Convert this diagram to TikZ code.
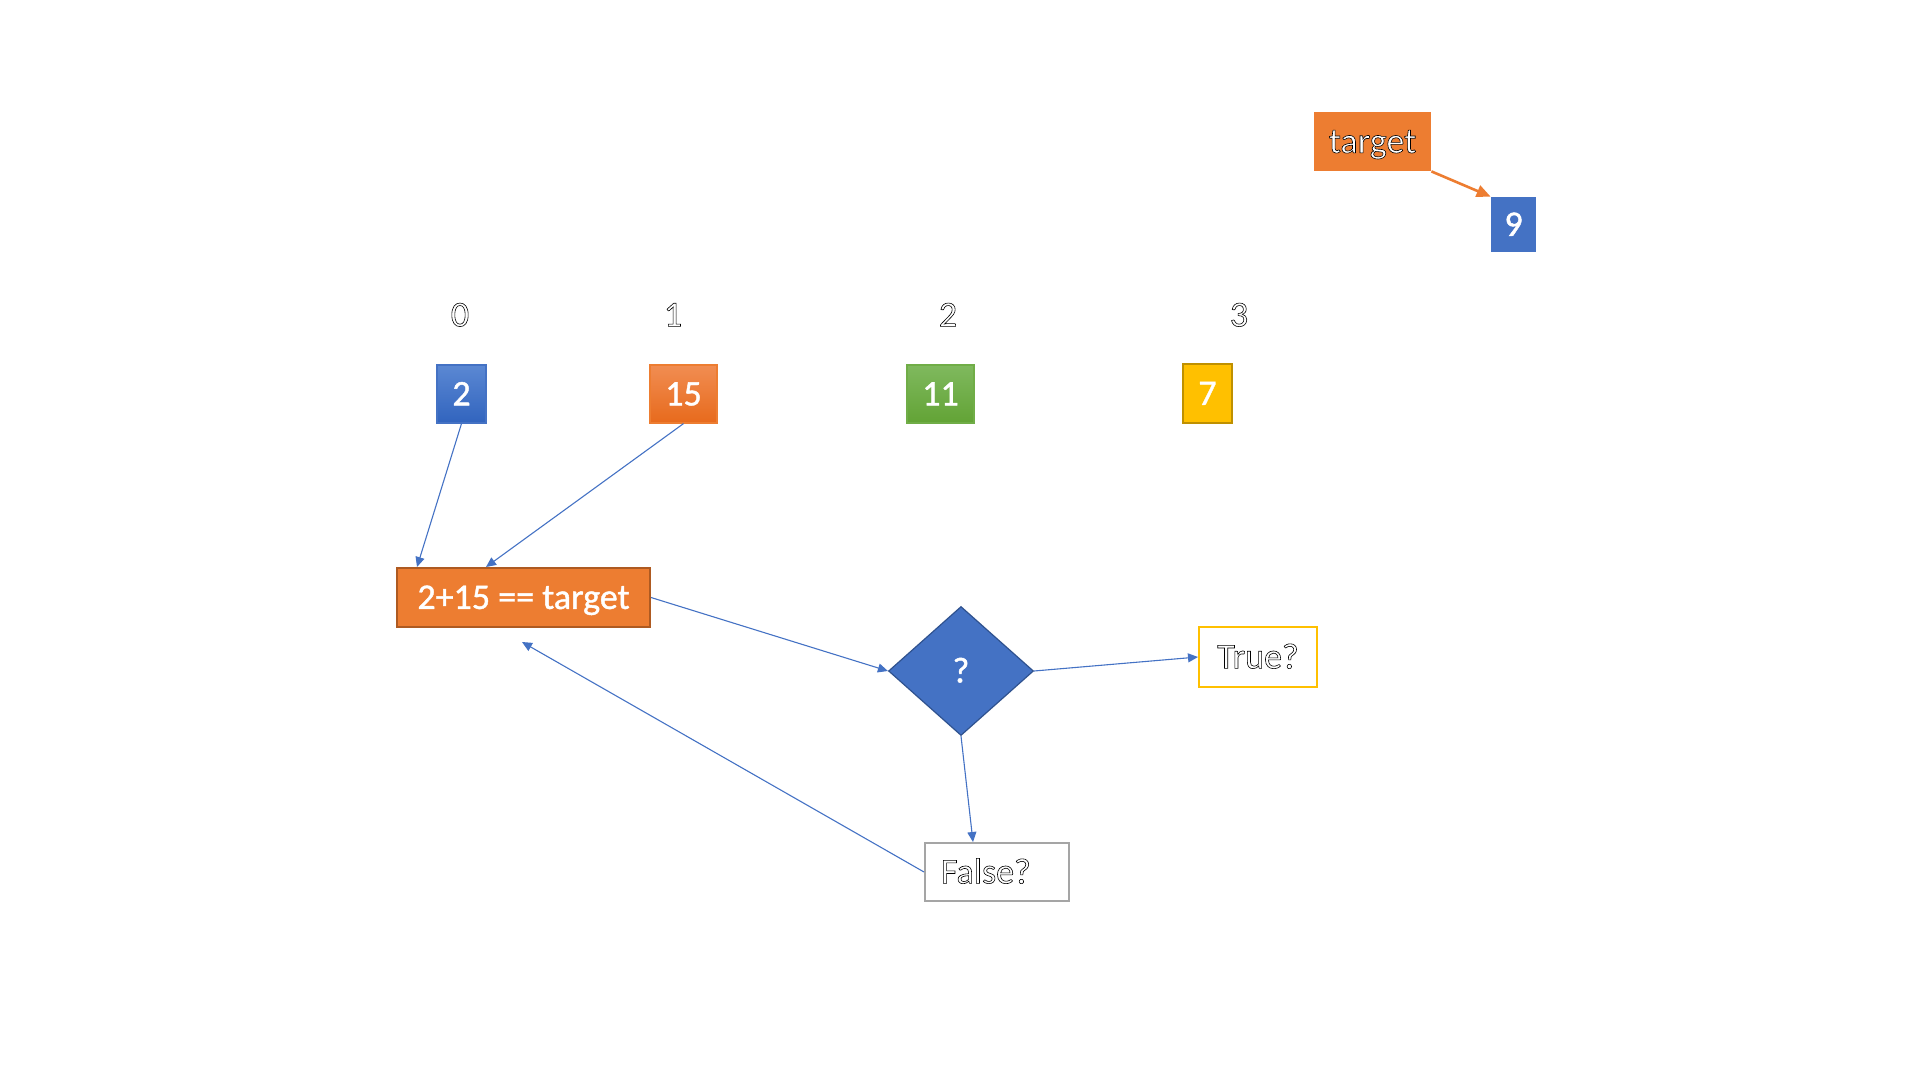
\documentclass[tikz,border=0pt]{standalone}
\usepackage{fontspec}
\setmainfont{Carlito}
\newfontfamily\heavy[FakeBold=1.2]{Carlito}
\usetikzlibrary{arrows.meta,shapes.geometric}

% one drawing unit = one pixel of a 1920x1080 canvas
\newdimen\pxu \pxu=0.5pt

% white letters with a thin dark contour
\newcommand\hollow[1]{\special{pdf:literal direct 0 G 2 Tr 0.3 w}#1\special{pdf:literal direct 0 Tr}}

\definecolor{cblue}{HTML}{4472C4}
\definecolor{cblueT}{HTML}{5B88D3}
\definecolor{cblueB}{HTML}{3164BE}
\definecolor{cblueD}{HTML}{2F528F}
\definecolor{corange}{HTML}{ED7D31}
\definecolor{corangeT}{HTML}{F18D52}
\definecolor{corangeB}{HTML}{E76A1C}
\definecolor{corangeD}{HTML}{AE5A21}
\definecolor{cgreen}{HTML}{70AD47}
\definecolor{cgreenT}{HTML}{7FB95E}
\definecolor{cgreenB}{HTML}{62A335}
\definecolor{cgold}{HTML}{FFC000}
\definecolor{cgoldD}{HTML}{BF9000}
\definecolor{cgray}{HTML}{A5A5A5}

\tikzset{
  txt/.style={font=\fontsize{18}{20}\selectfont, inner sep=0pt, text height=11.4pt, text depth=0pt},
  solidtxt/.style={txt, font=\fontsize{18}{20}\selectfont\heavy, text=white},
  cell/.style={solidtxt, minimum height=58\pxu},
  bluecell/.style={cell, draw=cblue, line width=0.6pt, top color=cblueT, bottom color=cblueB},
  orangecell/.style={cell, draw=corange, line width=0.6pt, top color=corangeT, bottom color=corangeB},
  greencell/.style={cell, draw=cgreen, line width=0.6pt, top color=cgreenT, bottom color=cgreenB},
  goldcell/.style={cell, fill=cgold, draw=cgoldD, line width=1pt},
  idx/.style={txt, text=white},
  flow/.style={draw=cblue, line width=0.55pt, -{Triangle[length=5pt,width=4.5pt]}},
  hot/.style={draw=corange, line width=1.3pt, -{Triangle[length=7pt,width=6pt]}}
}

\begin{document}
\begin{tikzpicture}[x=\pxu, y=-\pxu]
\useasboundingbox (0,0) rectangle (1920,1080);

% target value
\node[txt, text=white, fill=corange, minimum width=117\pxu, minimum height=59\pxu]
  (target) at (1372.5,141.5) {\hollow{target}};
\node[solidtxt, fill=cblue, minimum width=45\pxu, minimum height=55\pxu]
  (nine) at (1513.5,224.5) {9};
\draw[hot] (target.south east) -- (nine.north west);

% indices
\node[idx] (i0) at (460,315) {\hollow{0}};
\node[idx] (i1) at (673,315) {\hollow{1}};
\node[idx] (i2) at (948,315) {\hollow{2}};
\node[idx] (i3) at (1239,315) {\hollow{3}};

% array cells
\node[bluecell, minimum width=49\pxu] (v0) at (461.5,394) {2};
\node[orangecell, minimum width=67\pxu] (v1) at (683.5,394) {15};
\node[greencell, minimum width=67\pxu] (v2) at (940.5,394) {11};
\node[goldcell, minimum width=49\pxu, minimum height=59\pxu] (v3) at (1207.5,393.5) {7};

% comparison
\node[solidtxt, fill=corange, draw=corangeD, line width=1pt,
      minimum width=253\pxu, minimum height=59\pxu] (check) at (523.5,597.5) {2+15 == target};

% decision
\node[diamond, solidtxt, fill=cblue, draw=cblueD, line width=0.6pt,
      minimum width=145\pxu, minimum height=129\pxu] (dec) at (961,671) {?};

% outcomes
\node[txt, draw=cgold, line width=1pt, text=white, minimum width=118\pxu, minimum height=60\pxu]
  (yes) at (1258,657) {\hollow{True?}};
\node[txt, draw=cgray, line width=1pt, text=white, text width=112\pxu, align=left,
      inner xsep=16\pxu, minimum height=58\pxu] (no) at (997,872) {\hollow{False?}};
\coordinate (back) at (522,642);

% connectors
\draw[flow] (v0.south) -- ([xshift=21\pxu]check.north west);
\draw[flow] (v1.south) -- ([xshift=90\pxu]check.north west);
\draw[flow] (check.east) -- (dec.west);
\draw[flow] (dec.east) -- (yes.west);
\draw[flow] (dec.south) -- ([xshift=-24\pxu]no.north);
\draw[flow] (no.west) -- (back);
\end{tikzpicture}
\end{document}
